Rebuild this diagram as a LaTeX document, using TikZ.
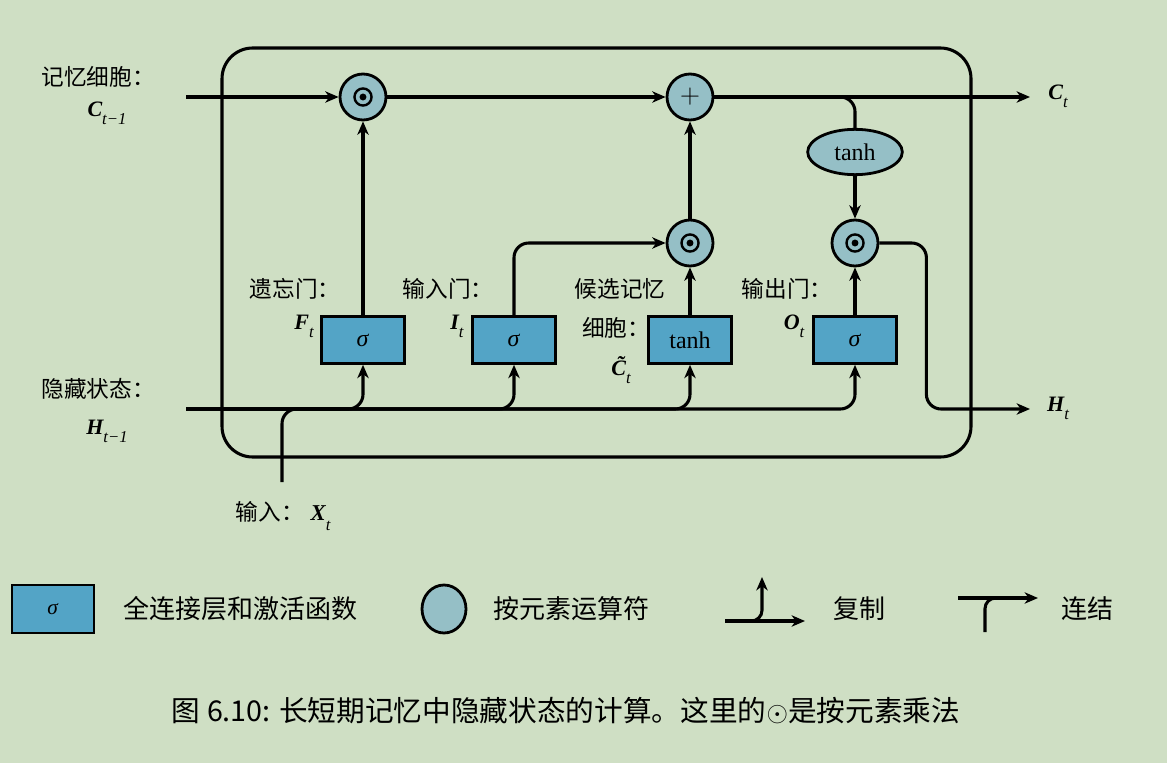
\documentclass[tikz,border=0pt]{standalone}
\usepackage{fontspec}
\setmainfont{Liberation Serif}
\newfontfamily\cjk{Noto Sans CJK SC}
\usetikzlibrary{arrows.meta,shapes.geometric,calc}
\definecolor{bgc}{RGB}{207,223,196}
\definecolor{boxc}{RGB}{83,164,198}
\definecolor{circc}{RGB}{149,191,198}
\newcommand{\mlab}[2]{{\rmfamily\bfseries\itshape #1}\raisebox{-0.8ex}{\rmfamily\fontsize{12.5}{13}\selectfont\itshape #2}}
\begin{document}
\begin{tikzpicture}[x=0.75pt,y=-0.75pt,line width=2.3pt,
  conn/.style={line width=2.3pt},
  tipstyle/.style={-{Stealth[length=10pt,width=8.5pt,inset=3pt]}},
  arr/.style={line width=2.4pt,tipstyle},
  arrc/.style={line width=2.3pt,tipstyle,rounded corners=11pt},
  gatebox/.style={draw,line width=2.2pt,fill=boxc,minimum width=62pt,minimum height=35pt,inner sep=0pt,font=\fontsize{18}{20}\selectfont},
  opcirc/.style={draw,line width=2.1pt,fill=circc,circle,minimum size=34.5pt,inner sep=0pt},
  multcirc/.style={opcirc,path picture={
      \draw[black,line width=1.8pt] (path picture bounding box.center) circle[radius=6.4pt];
      \fill[black] (path picture bounding box.center) circle[radius=2.6pt];}},
  cn/.style={font=\cjk\fontsize{17}{20}\selectfont},
  cnl/.style={font=\cjk\fontsize{19.5}{22}\selectfont,anchor=west},
  ml/.style={font=\fontsize{16.5}{18}\selectfont}]
\useasboundingbox (0,0) rectangle (1167,763);
\fill[bgc] (0,0) rectangle (1167,763);

% cell frame
\node[draw,line width=2.3pt,rounded corners=23pt,minimum width=561.75pt,minimum height=306.75pt] (cell) at (596.5,252.5) {};

% operators and gates
\node[multcirc] (c1) at (363,97) {};
\node[opcirc,font=\fontsize{20}{20}\selectfont] (plus) at (690,97) {$+$};
\node[multcirc] (m2) at (690,243) {};
\node[multcirc] (m3) at (855,243) {};
\node[gatebox] (fbox) at (363,340) {\textit{σ}};
\node[gatebox] (ibox) at (514,340) {\textit{σ}};
\node[gatebox] (cbox) at (690,340) {tanh};
\node[gatebox] (obox) at (855,340) {\textit{σ}};
\node[draw,line width=2.1pt,fill=circc,ellipse,minimum width=71pt,minimum height=34pt,inner sep=0pt,font=\fontsize{18}{20}\selectfont] (tE) at (855,152) {tanh};

\coordinate (cin) at (186,97);
\coordinate (cout) at (1030,97);
\coordinate (hin) at (186,409);
\coordinate (hout) at (1030,409);
\coordinate (xin) at (282,482);
\coordinate (xj) at (340,409);

% connectors
\draw[arr] (cin) -- (c1);
\draw[arr] (c1) -- (plus);
\draw[arr] (plus) -- (cout);
\draw[conn,rounded corners=11pt] (plus.east) -- (tE.north |- plus) -- (tE.north);
\draw[arr] (tE) -- (m3);
\draw[arr] (fbox) -- (c1);
\draw[arrc] (ibox.north) |- (m2.west);
\draw[arr] (cbox) -- (m2);
\draw[arr] (m2) -- (plus);
\draw[arr] (obox) -- (m3);
\draw[arrc] (m3.east) -- ++(47,0) |- (hout);
\draw[arrc] (hin) -| (obox.south);
\draw[arrc] (hin) -| (cbox.south);
\draw[arrc] (hin) -| (ibox.south);
\draw[arrc] (hin) -| (fbox.south);
\draw[conn,rounded corners=11pt] (xin) |- (xj);

% labels
\node[cn] (lmem) at (98,77) {记忆细胞：};
\node[ml] (lC0) at (107,113) {\mlab{C}{t−1}};
\node[cn] (lhid) at (98,389) {隐藏状态：};
\node[ml] (lH0) at (107,431) {\mlab{H}{t−1}};
\node[cn] (lf) at (295,289) {遗忘门：};
\node[ml] (lF) at (304,326) {\mlab{F}{t}};
\node[cn] (li) at (448,289) {输入门：};
\node[ml] (lI) at (457,326) {\mlab{I}{t}};
\node[cn] (lc1) at (620,289) {候选记忆};
\node[cn] (lc2) at (616,328) {细胞：};
\node[ml] (lCt) at (621,370) {\mlab{\~{C}}{t}};
\node[cn] (lo) at (787,289) {输出门：};
\node[ml] (lO) at (794,326) {\mlab{O}{t}};
\node[ml] (lCout) at (1058,96) {\mlab{C}{t}};
\node[ml] (lHout) at (1058,408) {\mlab{H}{t}};
\node[cn,anchor=west] (lx) at (230,516) {输入：\hspace{5pt}\mlab{X}{t}};

% legend
\node[gatebox,minimum width=61.5pt,minimum height=36pt,font=\fontsize{16}{18}\selectfont] (lb) at (53,609) {\textit{σ}};
\node[cnl] (lbt) at (118,609) {全连接层和激活函数};
\node[draw,line width=2.1pt,fill=circc,ellipse,minimum width=33pt,minimum height=36pt] (lcirc) at (444,609) {};
\node[cnl] (lct) at (488,609) {按元素运算符};
\coordinate (cpa) at (725,621);
\coordinate (cpb) at (805,621);
\coordinate (cps) at (748,621);
\coordinate (cpt) at (762,577);
\draw[arr] (cpa) -- (cpb);
\draw[arrc,rounded corners=8pt] (cps) -| (cpt);
\node[cnl] (lcp) at (828,609) {复制};
\coordinate (cca) at (958,598);
\coordinate (ccb) at (1038,598);
\coordinate (ccs) at (985,632);
\coordinate (ccj) at (1002,598);
\draw[arr] (cca) -- (ccb);
\draw[conn,rounded corners=8pt] (ccs) |- (ccj);
\node[cnl] (lcc) at (1056,609) {连结};

% caption
\node[anchor=west,font=\cjk\fontsize{21.5}{24}\selectfont] (cap) at (166,711) {图 6.10: 长短期记忆中隐藏状态的计算。这里的$\odot$是按元素乘法};
\end{tikzpicture}
\end{document}
